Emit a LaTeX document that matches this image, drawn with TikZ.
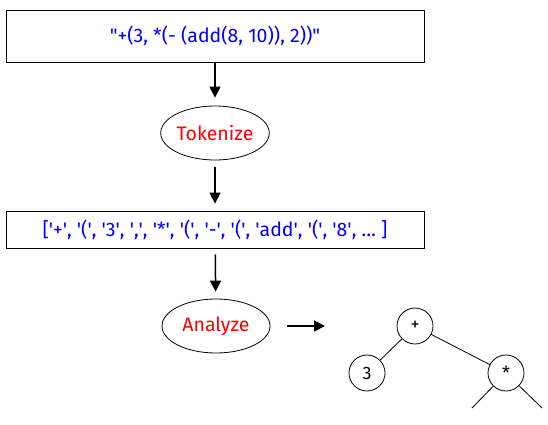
\documentclass[tikz,border=0pt]{standalone}
\usepackage{fontspec}
\setmainfont{Fira Sans}
\usetikzlibrary{shapes.geometric,arrows.meta}
\newcommand{\sq}{\textquotesingle}
\newcommand{\dq}{\textquotedbl}

\begin{document}
\begin{tikzpicture}[x=1pt,y=-1pt,
	txtbox/.style={draw,line width=0.8pt,minimum width=418pt,text=blue,font=\fontsize{19.5}{21}\selectfont},
	phase/.style={draw,ellipse,line width=0.8pt,minimum width=106pt,minimum height=54pt,inner sep=0pt,text=red,font=\fontsize{19.5}{21}\selectfont},
	leaf/.style={draw,circle,line width=0.8pt,minimum size=36pt,inner sep=0pt,font=\fontsize{18}{20}\selectfont},
	flow/.style={line width=1.5pt,-{Triangle[length=11pt,width=11pt]}}]
\useasboundingbox (0,0) rectangle (548,425);
\node[txtbox,minimum height=52pt] (S) at (215,36) {\dq+(3, *(- (add(8, 10)), 2))\dq};
\node[phase] (T) at (215,133) {Tokenize};
\node[txtbox,minimum height=37pt,inner sep=2pt] (L) at (215,229.5) {[\sq+\sq, \sq(\sq, \sq3\sq, \sq,\sq, \sq*\sq, \sq(\sq, \sq-\sq, \sq(\sq, \sq add\sq, \sq(\sq, \sq8\sq, \ldots\ ]};
\node[phase,minimum width=108pt] (A) at (216,326) {Analyze};
\coordinate (AE) at (287,326);
\coordinate (AT) at (325,326);
\draw[flow,shorten >=8pt] (S) -- (T);
\draw[flow,shorten <=7pt,shorten >=7pt] (T) -- (L);
\draw[flow,shorten <=6pt,shorten >=7pt] (L) -- (A);
\draw[flow] (AE) -- (AT);
%the tree
\node[leaf] (P) at (415,326) {+};
\node[leaf] (N) at (367,373) {3};
\node[leaf] (M) at (506,373) {*};
\coordinate (ML) at (472,408);
\coordinate (MR) at (542,408);
\draw[line width=0.8pt] (P)--(N);
\draw[line width=0.8pt] (P)--(M);
\draw[line width=0.8pt] (M)--(ML);
\draw[line width=0.8pt] (M)--(MR);
\end{tikzpicture}
\end{document}
